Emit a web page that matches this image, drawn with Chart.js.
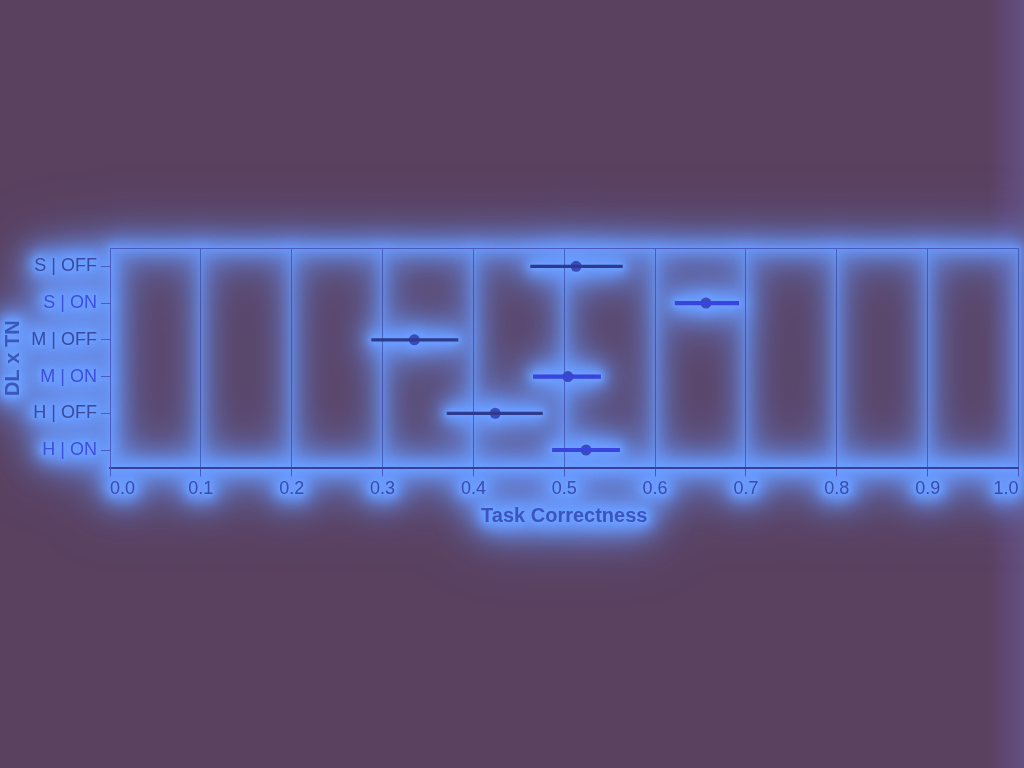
<!DOCTYPE html>
<html>
<head>
<meta charset="utf-8">
<script src="https://cdn.jsdelivr.net/npm/chart.js@4.4.1/dist/chart.umd.min.js"></script>
<style>
  html, body { margin: 0; padding: 0; width: 1024px; height: 768px; overflow: hidden;
    background: linear-gradient(to right, #5a4160 0%, #5a4160 96.5%, #5f4672 98%, #63507e 100%); }
  #wrap { position: absolute; left: 0; top: 0; width: 1024px; height: 768px; }
  canvas { filter: drop-shadow(0 0 2px #6fa0ff) drop-shadow(0 0 2px #6fa0ff) drop-shadow(0 0 5px #6a9cff) drop-shadow(0 0 6px #6a9cff) drop-shadow(0 0 10px rgba(106,156,255,0.9)) drop-shadow(0 0 14px rgba(106,150,250,0.8)) drop-shadow(0 0 26px rgba(100,140,240,0.6)); }
</style>
</head>
<body>
<div id="wrap"><canvas id="c" width="1024" height="768"></canvas></div>
<script>
// ---- data ----
const categories = ["S | OFF", "S | ON", "M | OFF", "M | ON", "H | OFF", "H | ON"];
const meanValues = [0.513, 0.656, 0.335, 0.504, 0.424, 0.524];
const lowValues  = [0.463, 0.622, 0.288, 0.466, 0.371, 0.487];
const highValues = [0.564, 0.692, 0.383, 0.540, 0.476, 0.561];
const tnGroup    = ["OFF", "ON", "OFF", "ON", "OFF", "ON"];
const xTicks     = [0.0, 0.1, 0.2, 0.3, 0.4, 0.5, 0.6, 0.7, 0.8, 0.9, 1.0];

const offErr = categories.map((c, i) => tnGroup[i] === "OFF" ? [lowValues[i], highValues[i]] : null);
const onErr  = categories.map((c, i) => tnGroup[i] === "ON"  ? [lowValues[i], highValues[i]] : null);

const flushLabels = {
  id: 'flushLabels',
  beforeDraw(chart) {
    const items = chart.scales.x.getLabelItems();
    if (items.length) {
      items[0].options.textAlign = 'left';
      items[items.length - 1].options.textAlign = 'right';
    }
  }
};

new Chart(document.getElementById('c'), {
  type: 'bar',
  data: {
    labels: categories,
    datasets: [
      { type: 'bar', indexAxis: 'y', data: offErr, backgroundColor: '#2d3a8e', barThickness: 2.5, grouped: false, borderWidth: 0 },
      { type: 'bar', indexAxis: 'y', data: onErr, backgroundColor: '#3844dc', barThickness: 3.5, grouped: false, borderWidth: 0 },
      { type: 'line', indexAxis: 'y', data: meanValues, showLine: false,
        pointRadius: 5.5, pointHoverRadius: 5.5, pointBorderWidth: 0,
        pointBackgroundColor: '#3a4bbb', borderColor: '#3a4bbb' }
    ]
  },
  options: {
    indexAxis: 'y',
    responsive: false,
    animation: false,
    events: [],
    layout: { padding: { top: 248, bottom: 240, left: 0, right: 5 } },
    plugins: { legend: { display: false }, tooltip: { enabled: false } },
    scales: {
      x: {
        type: 'linear', position: 'bottom', min: 0, max: 1,
        afterBuildTicks: s => { s.ticks = xTicks.map(v => ({ value: v })); },
        afterFit: s => { s.paddingLeft = 0; s.paddingRight = 0; },
        ticks: { callback: v => v.toFixed(1), color: '#3a4cb0', font: { family: 'Liberation Sans', size: 18 }, padding: 2, maxRotation: 0, autoSkip: false },
        grid: { color: 'rgba(45,55,150,0.55)', lineWidth: 1, drawTicks: true, tickLength: 8, tickColor: '#4658c0' },
        border: { color: '#35409a', width: 2 },
        title: { display: true, text: 'Task Correctness', color: '#3a55c0', font: { family: 'Liberation Sans', size: 20, weight: 'bold' }, padding: { top: 2, bottom: 0 } }
      },
      x2: {
        type: 'linear', position: 'top', min: 0, max: 1, display: true,
        afterFit: s => { s.paddingLeft = 0; s.paddingRight = 0; },
        ticks: { display: false }, grid: { display: false, drawTicks: false },
        border: { color: '#4a5cc0', width: 1 }
      },
      y: {
        type: 'category', offset: true,
        afterFit: s => { s.width = 110; },
        ticks: { color: ctx => tnGroup[ctx.index] === 'ON' ? '#3d50dc' : '#3a4a9e', font: { family: 'Liberation Sans', size: 18 }, padding: 4 },
        grid: { display: true, drawOnChartArea: false, offset: false, tickLength: 9, tickColor: '#4a5cc0' },
        border: { color: '#4a5cc0', width: 1 },
        title: { display: true, text: 'DL x TN', color: '#3a58b8', font: { family: 'Liberation Sans', size: 20, weight: 'bold' }, padding: { top: 1, bottom: 0 } }
      }
    }
  },
  plugins: [flushLabels]
});
</script>
</body>
</html>
